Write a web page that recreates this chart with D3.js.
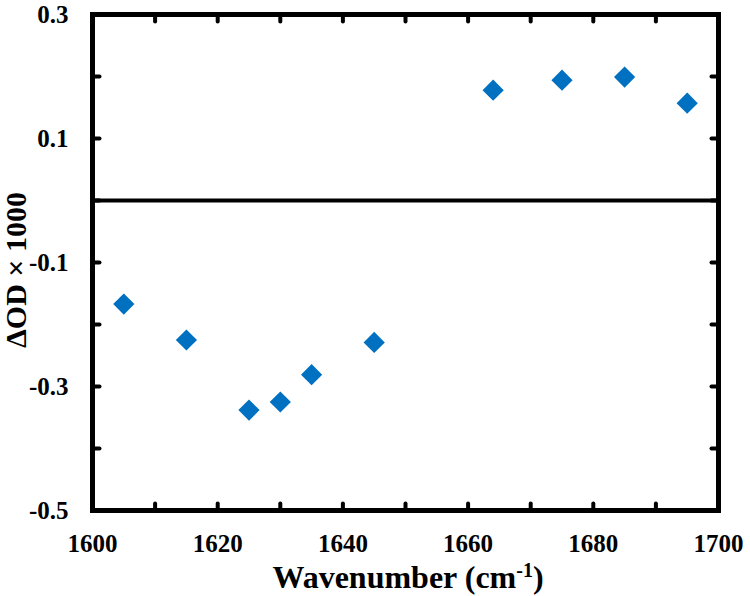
<!DOCTYPE html>
<html>
<head>
<meta charset="utf-8">
<script src="https://cdn.jsdelivr.net/npm/d3@7"></script>
<style>
  body { margin: 0; background: #fff; }
</style>
</head>
<body>
<svg id="chart" width="750" height="596" font-family="'Liberation Serif', 'DejaVu Serif', serif" font-weight="bold"></svg>
<script>
const wavenumber = [1605, 1615, 1625, 1630, 1635, 1645, 1664, 1675, 1685, 1695];
const deltaOD = [-0.167, -0.225, -0.338, -0.325, -0.281, -0.229, 0.178, 0.194, 0.199, 0.157];
const xTicks = [1600, 1620, 1640, 1660, 1680, 1700];
const xMinor = d3.range(1600, 1701, 10);
const yTicks = [0.3, 0.1, -0.1, -0.3, -0.5];
const yMinor = [0.3, 0.2, 0.1, 0, -0.1, -0.2, -0.3, -0.4, -0.5];

const margin = {top: 14.5, right: 31.5, bottom: 85.5, left: 92.5};
const width = 750, height = 596;

const svg = d3.select('#chart');

const x = d3.scaleLinear()
  .domain([1600, 1700])
  .range([margin.left, width - margin.right]);

const y = d3.scaleLinear()
  .domain([-0.5, 0.3])
  .range([height - margin.bottom, margin.top]);

const tickLen = 7;

// inner ticks on all four sides
const ticks = svg.append('g')
  .attr('stroke', '#000')
  .attr('stroke-width', 4)
  .attr('stroke-linecap', 'round');

xMinor.forEach(v => {
  ticks.append('line')
    .attr('x1', x(v)).attr('x2', x(v))
    .attr('y1', y(-0.5)).attr('y2', y(-0.5) - tickLen);
  ticks.append('line')
    .attr('x1', x(v)).attr('x2', x(v))
    .attr('y1', y(0.3)).attr('y2', y(0.3) + tickLen);
});
yMinor.forEach(v => {
  ticks.append('line')
    .attr('x1', x(1600)).attr('x2', x(1600) + tickLen)
    .attr('y1', y(v)).attr('y2', y(v));
  ticks.append('line')
    .attr('x1', x(1700)).attr('x2', x(1700) - tickLen)
    .attr('y1', y(v)).attr('y2', y(v));
});

// frame
svg.append('rect')
  .attr('x', x(1600))
  .attr('y', y(0.3))
  .attr('width', x(1700) - x(1600))
  .attr('height', y(-0.5) - y(0.3))
  .attr('fill', 'none')
  .attr('stroke', '#000')
  .attr('stroke-width', 5);

// zero line
svg.append('line')
  .attr('x1', x(1600)).attr('x2', x(1700))
  .attr('y1', y(0)).attr('y2', y(0))
  .attr('stroke', '#000')
  .attr('stroke-width', 4);

// tick labels
svg.append('g').selectAll('text')
  .data(xTicks)
  .enter().append('text')
  .attr('x', d => x(d))
  .attr('y', y(-0.5) + 41)
  .attr('text-anchor', 'middle')
  .attr('font-size', 25)
  .text(d => d);

svg.append('g').selectAll('text')
  .data(yTicks)
  .enter().append('text')
  .attr('x', x(1600) - 24)
  .attr('y', d => y(d) + 8)
  .attr('text-anchor', 'end')
  .attr('font-size', 25)
  .text(d => d3.format('.1f')(d).replace('−', '-'));

// axis titles
const xt = svg.append('text')
  .attr('x', 408)
  .attr('y', 588)
  .attr('text-anchor', 'middle')
  .attr('font-size', 32);
xt.append('tspan').text('Wavenumber (cm');
xt.append('tspan').attr('dy', -11).attr('font-size', 20).text('-1');
xt.append('tspan').attr('dy', 11).text(')');

svg.append('text')
  .attr('transform', 'translate(26,270) rotate(-90)')
  .attr('text-anchor', 'middle')
  .attr('font-size', 30)
  .text('ΔOD × 1000');

// markers
svg.append('g').selectAll('path')
  .data(wavenumber)
  .enter().append('path')
  .attr('d', d3.symbol().type(d3.symbolSquare).size(225))
  .attr('transform', (d, i) => `translate(${x(d)},${y(deltaOD[i])}) rotate(45)`)
  .attr('fill', '#0070C0');
</script>
</body>
</html>
